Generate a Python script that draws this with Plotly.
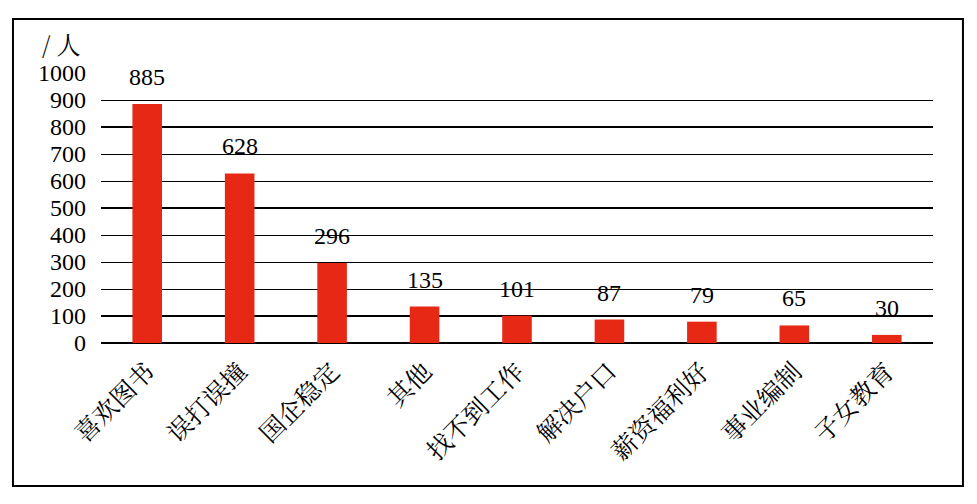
import plotly.graph_objects as go

categories = ["喜欢图书", "误打误撞", "国企稳定", "其他", "找不到工作", "解决户口", "薪资福利好", "事业编制", "子女教育"]
values = [885, 628, 296, 135, 101, 87, 79, 65, 30]
y_ticks = [0, 100, 200, 300, 400, 500, 600, 700, 800, 900, 1000]
thick_grid = [100, 500, 800]

serif = "Liberation Serif, Times New Roman, serif"
cjk = "Noto Serif CJK SC, Noto Sans CJK SC, serif"

fig = go.Figure()
fig.add_trace(go.Bar(
    x=categories, y=values,
    marker=dict(color="#E62814", line=dict(width=0)),
    width=0.32,
))

for c, v in zip(categories, values):
    fig.add_annotation(x=c, y=v, text=str(v), showarrow=False, yshift=27,
                       font=dict(family=serif, size=24, color="#000"), yanchor="middle")

for g in thick_grid:
    fig.add_shape(type="line", xref="paper", x0=0, x1=1, yref="y", y0=g, y1=g,
                  line=dict(color="#000", width=2.2), layer="below")

fig.add_annotation(xref="paper", yref="paper", x=-0.047, y=1.111, text="/ 人", showarrow=False,
                   xanchor="center", yanchor="middle", font=dict(family=cjk, size=24, color="#000"))

# outer border
fig.add_shape(type="rect", xref="paper", yref="paper",
              x0=-0.1058, x1=1.036, y0=-0.53, y1=1.2,
              line=dict(color="#000", width=2), fillcolor="rgba(0,0,0,0)")

fig.update_layout(
    width=969, height=496,
    margin=dict(l=93, r=44, t=65, b=161),
    paper_bgcolor="white", plot_bgcolor="white",
    showlegend=False,
    font=dict(family=serif, color="#000"),
)
fig.update_yaxes(range=[0, 1000], tickvals=y_ticks, showgrid=True, gridcolor="#000", gridwidth=1,
                 zeroline=True, zerolinecolor="#000", zerolinewidth=1.5,
                 tickfont=dict(family=serif, size=24, color="#000"), ticklabelstandoff=14,
                 showline=False, fixedrange=True)
fig.update_xaxes(tickangle=-45, tickfont=dict(family=cjk, size=25, color="#000"),
                 showline=False, showgrid=False, ticks="", ticklabelstandoff=8)

fig.write_html("out.html")
